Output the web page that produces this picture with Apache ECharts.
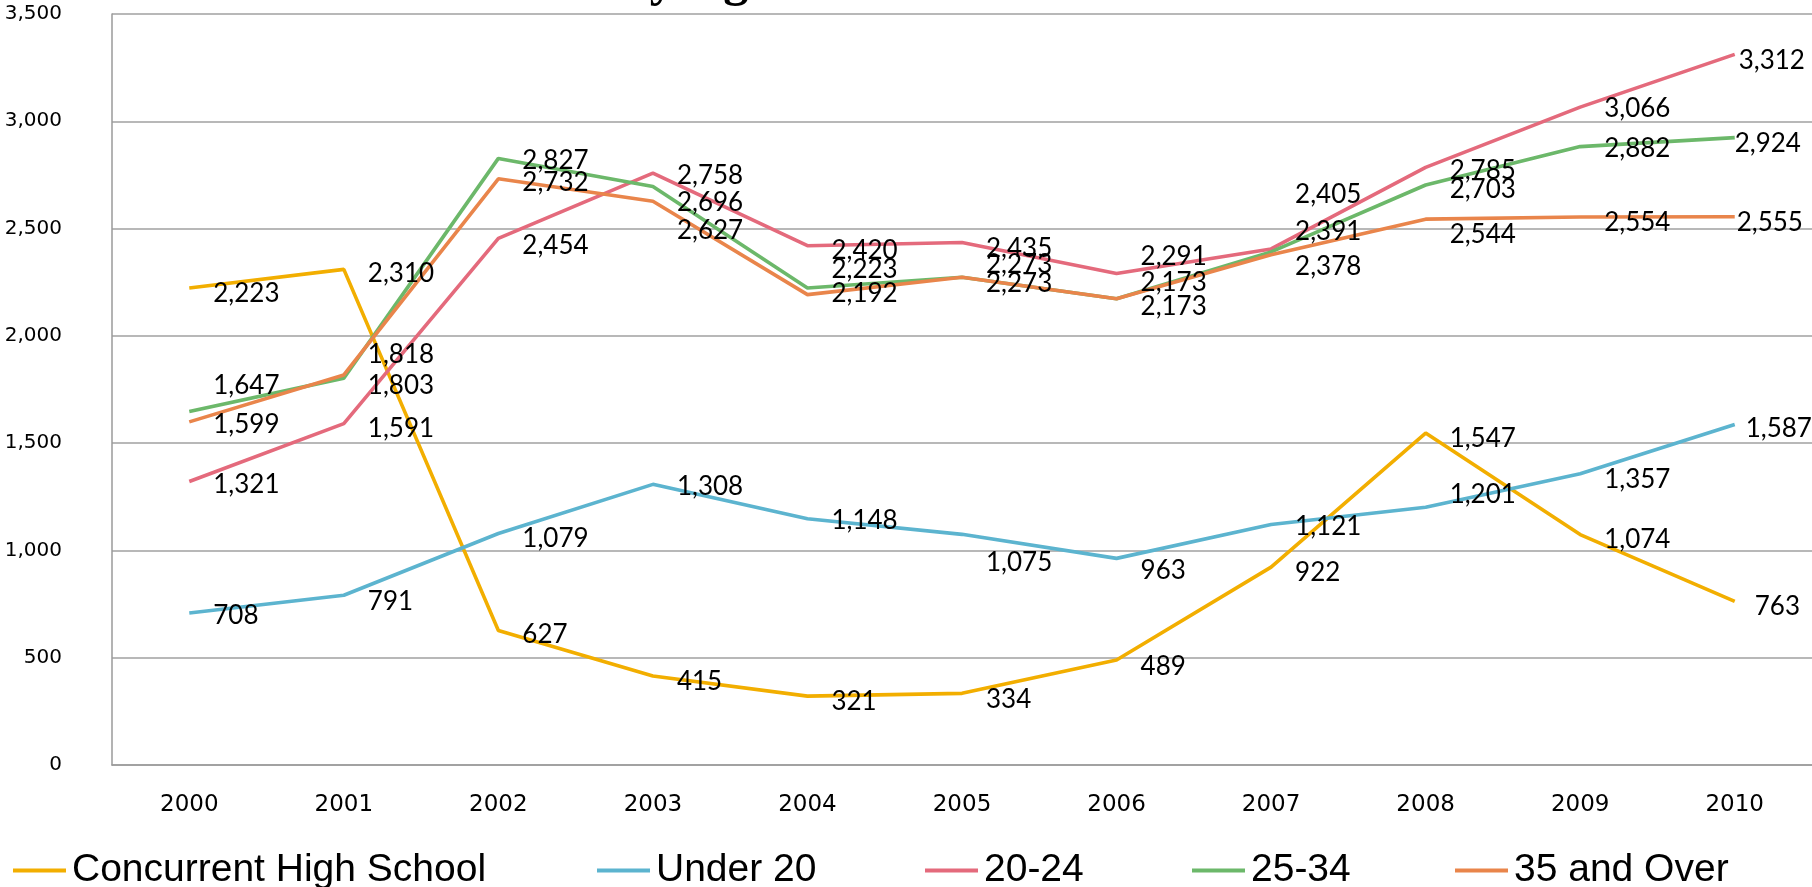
<!DOCTYPE html>
<html>
<head>
<meta charset="utf-8">
<script src="https://cdn.jsdelivr.net/npm/echarts@6/dist/echarts.min.js"></script>
<style>
html,body{margin:0;padding:0;background:#fff;}
#chart{width:1812px;height:887px;}
</style>
</head>
<body>
<div id="chart"></div>
<script>
const titleText = 'Headcount by Age';
const years = ['2000','2001','2002','2003','2004','2005','2006','2007','2008','2009','2010'];
const seriesNames = ['Concurrent High School','Under 20','20-24','25-34','35 and Over'];
const concurrentHS = [2223, 2310, 627, 415, 321, 334, 489, 922, 1547, 1074, 763];
const under20 = [708, 791, 1079, 1308, 1148, 1075, 963, 1121, 1201, 1357, 1587];
const age20to24 = [1321, 1591, 2454, 2758, 2420, 2435, 2291, 2405, 2785, 3066, 3312];
const age25to34 = [1647, 1803, 2827, 2696, 2223, 2273, 2173, 2391, 2703, 2882, 2924];
const age35plus = [1599, 1818, 2732, 2627, 2192, 2273, 2173, 2378, 2544, 2554, 2555];
const yTicks = [0, 500, 1000, 1500, 2000, 2500, 3000, 3500];

// styling / label layout (pixel nudges of the value labels, as placed in the original)
const colors = ['#F2AE00', '#5CB4CF', '#E46A7C', '#6CB86A', '#E9854B'];
const legendLefts = [8, 592, 920, 1187, 1450];
const labelDy = [
  [6, 4, 4, 6, 5, 6, 7, 5, 6, 5, 5],
  [3, 6, 5, 2, 2, 28, 12, 2, -13, 6, 4],
  [3, 5, 7, 2, 5, 6, -17, -54, 3, 1, 6],
  [-26, 7, 2, 16, -18, -13, -16, -20, 5, 2, 6],
  [3, -20, 4, 29, -1, 6, 8, 12, 15, 6, 6]
];
const lastDx = [20, 11, 4, 0, 2];

const seriesData = [concurrentHS, under20, age20to24, age25to34, age35plus];
const fmt = v => v.toLocaleString('en-US');

const chart = echarts.init(document.getElementById('chart'), null, {renderer: 'canvas'});
const option = {
  animation: false,
  backgroundColor: '#ffffff',
  title: {
    text: titleText,
    left: 371,
    top: -48,
    textStyle: {fontFamily: 'Liberation Serif', fontWeight: 'bold', fontSize: 50, color: '#000'}
  },
  legend: seriesNames.map((n, i) => ({
    data: [n],
    left: legendLefts[i],
    top: 846,
    icon: 'rect',
    itemWidth: 53,
    itemHeight: 4,
    itemGap: 0,
    textStyle: {fontFamily: 'Liberation Sans', fontSize: 39, color: '#000', padding: [0, 0, 0, 1]}
  })),
  grid: {left: 112, right: 0, top: 14, bottom: 122, containLabel: false},
  xAxis: {
    type: 'category',
    data: years,
    boundaryGap: true,
    axisLine: {show: true, lineStyle: {color: '#9a9a9a', width: 1.5}},
    axisTick: {show: false},
    axisLabel: {fontFamily: 'DejaVu Sans', fontSize: 23, color: '#000', margin: 29}
  },
  yAxis: {
    type: 'value',
    min: yTicks[0],
    max: yTicks[yTicks.length - 1],
    interval: 500,
    axisLine: {show: true, lineStyle: {color: '#9a9a9a', width: 1.5}},
    axisTick: {show: false},
    splitLine: {show: true, lineStyle: {color: '#a0a0a0', width: 1.5}},
    axisLabel: {fontFamily: 'DejaVu Sans', fontSize: 20, color: '#000', margin: 50, padding: [5, 0, 0, 0], formatter: v => fmt(v)}
  },
  series: seriesNames.map((n, i) => ({
    name: n,
    type: 'line',
    data: seriesData[i].map((v, j) => ({
      value: v,
      label: {offset: [j === years.length - 1 ? lastDx[i] : 24, labelDy[i][j]]}
    })),
    color: colors[i],
    symbol: 'circle',
    symbolSize: 0.01,
    showSymbol: true,
    lineStyle: {width: 3.6, color: colors[i]},
    itemStyle: {color: colors[i]},
    label: {
      show: true,
      position: 'right',
      distance: 0,
      fontFamily: 'Lato',
      fontSize: 26,
      color: '#000',
      formatter: p => fmt(p.value)
    },
    emphasis: {disabled: true}
  }))
};
chart.setOption(option);
</script>
</body>
</html>
